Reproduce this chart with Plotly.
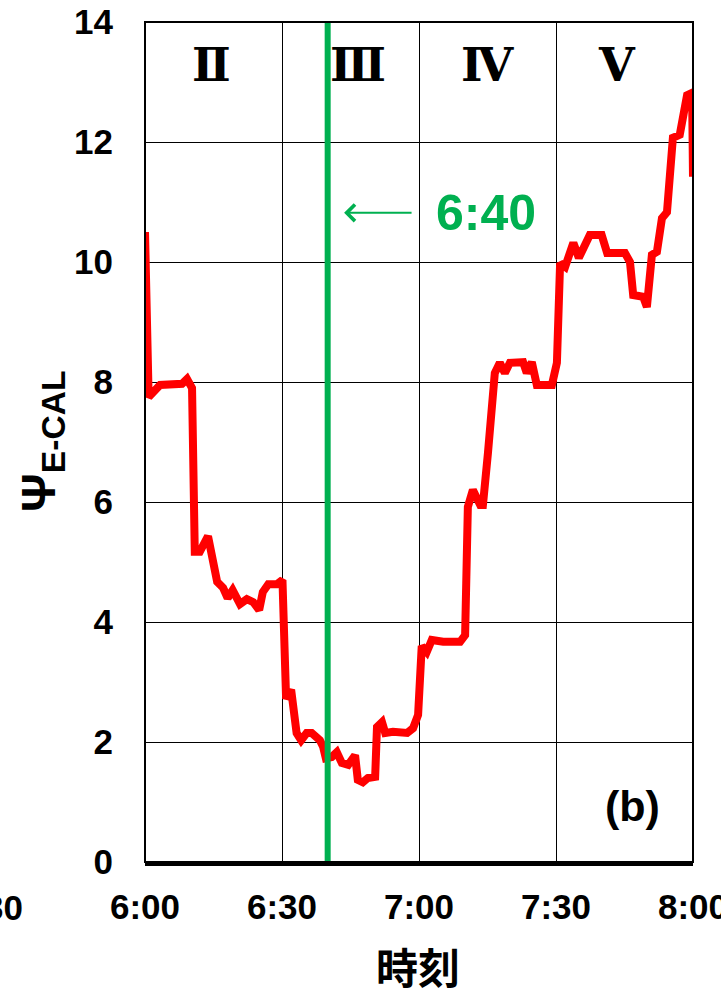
import plotly.graph_objects as go

# ---- data (minutes after 6:00) ----
minutes = [0, 0.8, 3.3, 8.1, 9.2, 10.3, 10.9, 12.0, 13.8, 14.9, 15.8, 17.1, 18.1, 19.2,
           20.8, 22.3, 23.7, 25.0, 25.8, 27.0, 28.9, 30.1, 30.9, 32.0, 33.2, 34.2, 35.4,
           36.5, 38.3, 39.0, 39.6, 40.9, 42.0, 43.1, 44.5, 46.0, 46.6, 47.7, 48.8, 50.4,
           50.8, 51.9, 52.6, 54.3, 57.4, 58.7, 59.8, 60.6, 61.7, 62.8, 65.3, 69.0, 70.1,
           70.7, 71.8, 73.4, 74.0, 75.1, 76.0, 76.6, 77.7, 78.8, 79.9, 82.8, 83.6, 84.7,
           85.8, 89.1, 90.2, 90.9, 92.0, 93.8, 95.0, 96.3, 97.4, 100.0, 101.2, 105.1,
           106.2, 106.9, 109.1, 109.9, 111.0, 112.1, 113.2, 114.3, 115.0, 115.6, 117.1,
           118.7, 119.8, 120.0]
psi_ecal = [10.5, 7.75, 7.95, 7.97, 8.05, 7.9, 5.17, 5.17, 5.43, 4.98, 4.67, 4.57, 4.4,
            4.53, 4.3, 4.38, 4.33, 4.2, 4.5, 4.63, 4.63, 4.7, 2.72, 2.87, 2.15, 2.03, 2.15,
            2.15, 2.03, 1.92, 1.73, 1.75, 1.83, 1.65, 1.62, 1.78, 1.37, 1.33, 1.4, 1.42,
            2.25, 2.33, 2.15, 2.17, 2.15, 2.23, 2.45, 3.6, 3.5, 3.7, 3.67, 3.67, 3.78,
            5.92, 6.2, 5.95, 5.95, 6.82, 7.48, 8.15, 8.32, 8.15, 8.32, 8.33, 8.15, 8.33,
            7.95, 7.95, 8.32, 9.98, 9.92, 10.32, 10.07, 10.25, 10.45, 10.45, 10.15, 10.15,
            10.0, 9.45, 9.42, 9.25, 10.12, 10.17, 10.73, 10.83, 11.73, 12.07, 12.12,
            12.78, 12.82, 11.42]

x_tickvals = [0, 30, 60, 90, 120]
x_ticktext = ["6:00", "6:30", "7:00", "7:30", "8:00"]
y_tickvals = [0, 2, 4, 6, 8, 10, 12, 14]

phase_labels = ["Ⅱ", "Ⅲ", "Ⅳ", "Ⅴ"]
phase_pos = [14.5, 46.6, 75.1, 103.3]
marker_time = 40          # 6:40
marker_label = "6:40"

RED = "#FF0000"
GREEN = "#00B050"
FONT = "Liberation Sans, Arial, sans-serif"

fig = go.Figure()
fig.add_trace(go.Scatter(x=minutes, y=psi_ecal, mode="lines",
                         line=dict(color=RED, width=8), showlegend=False,
                         hoverinfo="skip"))

fig.add_shape(type="line", x0=marker_time, x1=marker_time, y0=0, y1=1,
              xref="x", yref="paper", line=dict(color=GREEN, width=6), layer="above")
fig.add_shape(type="rect", x0=0, x1=1, y0=0, y1=1, xref="paper", yref="paper",
              line=dict(color="black", width=2), layer="above")

ann = []
for lab, p in zip(phase_labels, phase_pos):
    ann.append(dict(x=p, y=13.28, xref="x", yref="y", text="<b>" + lab + "</b>",
                    showarrow=False, font=dict(family="DejaVu Serif, serif", size=46, color="black"),
                    xanchor="center", yanchor="middle"))
# arrow + 6:40 label
ann.append(dict(x=43.6, y=10.82, ax=58.7, ay=10.82, xref="x", yref="y", axref="x", ayref="y",
                text="", showarrow=True, arrowhead=4, arrowsize=1.6, arrowwidth=2,
                arrowcolor=GREEN))
ann.append(dict(x=74.7, y=10.82, xref="x", yref="y", text="<b>" + marker_label + "</b>",
                showarrow=False, font=dict(family=FONT, size=50, color=GREEN),
                xanchor="center", yanchor="middle"))
# panel label
ann.append(dict(x=106.8, y=0.93, xref="x", yref="y", text="<b>(b)</b>",
                showarrow=False, font=dict(family=FONT, size=43, color="black"),
                xanchor="center", yanchor="middle"))
# axis titles
ann.append(dict(x=(418 - 145) / 548, y=(994 - 965 - 132) / 840, xref="paper", yref="paper",
                text="<b>時刻</b>", showarrow=False,
                font=dict(family="Noto Sans CJK JP", size=42, color="black"),
                xanchor="center", yanchor="middle"))
ann.append(dict(x=(42 - 145) / 548, y=0.5, xref="paper", yref="paper",
                text="<b>Ψ<sub>E-CAL</sub></b>", showarrow=False, textangle=-90,
                font=dict(family=FONT, size=48, color="black"),
                xanchor="center", yanchor="middle"))
# clipped neighbour tick label from the adjacent panel
ann.append(dict(x=(25 - 145) / 548, y=(994 - 907 - 132) / 840, xref="paper", yref="paper",
                text="<b>5:30</b>", showarrow=False,
                font=dict(family=FONT, size=35, color="black"),
                xanchor="right", yanchor="middle"))

fig.update_layout(
    width=721, height=994,
    margin=dict(l=145, r=28, t=22, b=132, autoexpand=False),
    paper_bgcolor="white", plot_bgcolor="white",
    annotations=ann,
    hovermode=False,
    xaxis=dict(range=[0, 120], tickvals=x_tickvals, ticktext=x_ticktext,
               showgrid=True, gridcolor="black", gridwidth=1, zeroline=False,
               showline=True, linecolor="black", linewidth=4,
               ticks="", ticklabelstandoff=11, ticklabeloverflow="allow", automargin=False,
               tickfont=dict(family=FONT, size=35, color="black", weight="bold")),
    yaxis=dict(range=[0, 14], tickvals=y_tickvals,
               showgrid=True, gridcolor="black", gridwidth=1, zeroline=False,
               showline=False, ticks="", ticklabelstandoff=31, automargin=False,
               ticklabeloverflow="allow",
               tickfont=dict(family=FONT, size=35, color="black", weight="bold")),
)

fig.write_html("out.html", config={"displayModeBar": False, "staticPlot": True},
               post_script="document.body.style.margin='0';document.body.style.overflow='hidden';")
